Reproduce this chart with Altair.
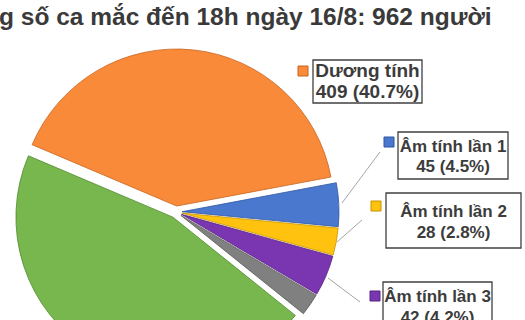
import altair as alt
import pandas as pd
import math

# ---- data ----
categories = ["Dương tính", "Âm tính lần 1", "Âm tính lần 2", "Âm tính lần 3", "Tử vong", "Khỏi bệnh"]
values = [409, 45, 28, 42, 23, 459]
colors = ["#F98A3A", "#4A78CF", "#FFC20E", "#7A36B0", "#808080", "#78B74E"]
edge_colors = ["#C8641E", "#2F55A0", "#C89400", "#55207F", "#5A5A5A", "#4F8A2E"]
title_text = "g số ca mắc đến 18h ngày 16/8: 962 người"

total = sum(values)
df = pd.DataFrame({"cat": categories, "value": values, "order": list(range(len(values)))})

W, H = 525, 320
CX, CY, R, D = 176, 212, 157, 6
START = math.radians(293)

pie = (
    alt.Chart(df)
    .transform_joinaggregate(total="sum(value)")
    .transform_window(cum="sum(value)", sort=[alt.SortField("order")], frame=[None, 0])
    .transform_calculate(t1=f"{START} + 2*PI*datum.cum/datum.total")
    .transform_calculate(t0="datum.t1 - 2*PI*datum.value/datum.total")
    .transform_calculate(mid="(datum.t0 + datum.t1)/2")
    .transform_calculate(px=f"{CX} + {D}*sin(datum.mid)", py=f"{CY} - {D}*cos(datum.mid)")
    .mark_arc(outerRadius=R, strokeWidth=0.8)
    .encode(
        theta=alt.Theta("t0:Q", scale=None),
        theta2="t1:Q",
        x=alt.X("px:Q", scale=None),
        y=alt.Y("py:Q", scale=None),
        color=alt.Color("cat:N", scale=alt.Scale(domain=categories, range=colors), legend=None),
        stroke=alt.Stroke("cat:N", scale=alt.Scale(domain=categories, range=edge_colors), legend=None),
    )
)

dummy = pd.DataFrame({"a": [0]})
layers = [pie]

def pct(v):
    return f"{v} ({v / total * 100:.1f}%)"

# leader lines
leaders = [((380, 152), (342, 203)), ((362, 220), (337, 242)), ((328, 278), (360, 302))]
for (x1, y1), (x2, y2) in leaders:
    layers.append(
        alt.Chart(dummy).mark_rule(color="#A6A6A6", strokeWidth=1).encode(
            x=alt.value(x1), y=alt.value(y1), x2=alt.value(x2), y2=alt.value(y2)
        )
    )

# label boxes: (index, box x0, x1, y0, y1, marker x, marker y, baseline1, baseline2, fontsize)
labels = [
    (0, 313, 422, 60, 103, 298, 66, 77, 98, 19),
    (1, 398, 508, 132, 179, 384, 137, 152, 172, 17),
    (2, 386, 521, 193, 248, 371, 201, 217, 238, 17),
    (3, 383, 492, 282, 330, 370, 291, 302, 323, 17),
]
for i, bx0, bx1, by0, by1, mx, my, b1, b2, fs in labels:
    layers.append(
        alt.Chart(dummy).mark_rect(fill="white", stroke="#404040", strokeWidth=1.3).encode(
            x=alt.value(bx0), x2=alt.value(bx1), y=alt.value(by0), y2=alt.value(by1)
        )
    )
    layers.append(
        alt.Chart(dummy).mark_rect(fill=colors[i], stroke=edge_colors[i], strokeWidth=1).encode(
            x=alt.value(mx), x2=alt.value(mx + 10), y=alt.value(my), y2=alt.value(my + 10)
        )
    )
    cx = (bx0 + bx1) / 2
    for txt, bl in ((categories[i], b1), (pct(values[i]), b2)):
        layers.append(
            alt.Chart(dummy).mark_text(
                text=txt, font="Liberation Sans", fontWeight="bold", fontSize=fs,
                color="#3C3C3C", align="center", baseline="alphabetic"
            ).encode(x=alt.value(cx), y=alt.value(bl))
        )

layers.append(
    alt.Chart(dummy).mark_text(
        text=title_text, font="Liberation Sans", fontWeight="bold", fontSize=24.5,
        color="#3A3A3A", align="left", baseline="alphabetic"
    ).encode(x=alt.value(-1), y=alt.value(25))
)

chart = (
    alt.layer(*layers)
    .properties(width=W, height=H, autosize=alt.AutoSizeParams(type="none"), padding=0, background="white")
    .configure_view(stroke=None)
)

chart.save("out.html", embed_options={"renderer": "svg", "actions": False})
